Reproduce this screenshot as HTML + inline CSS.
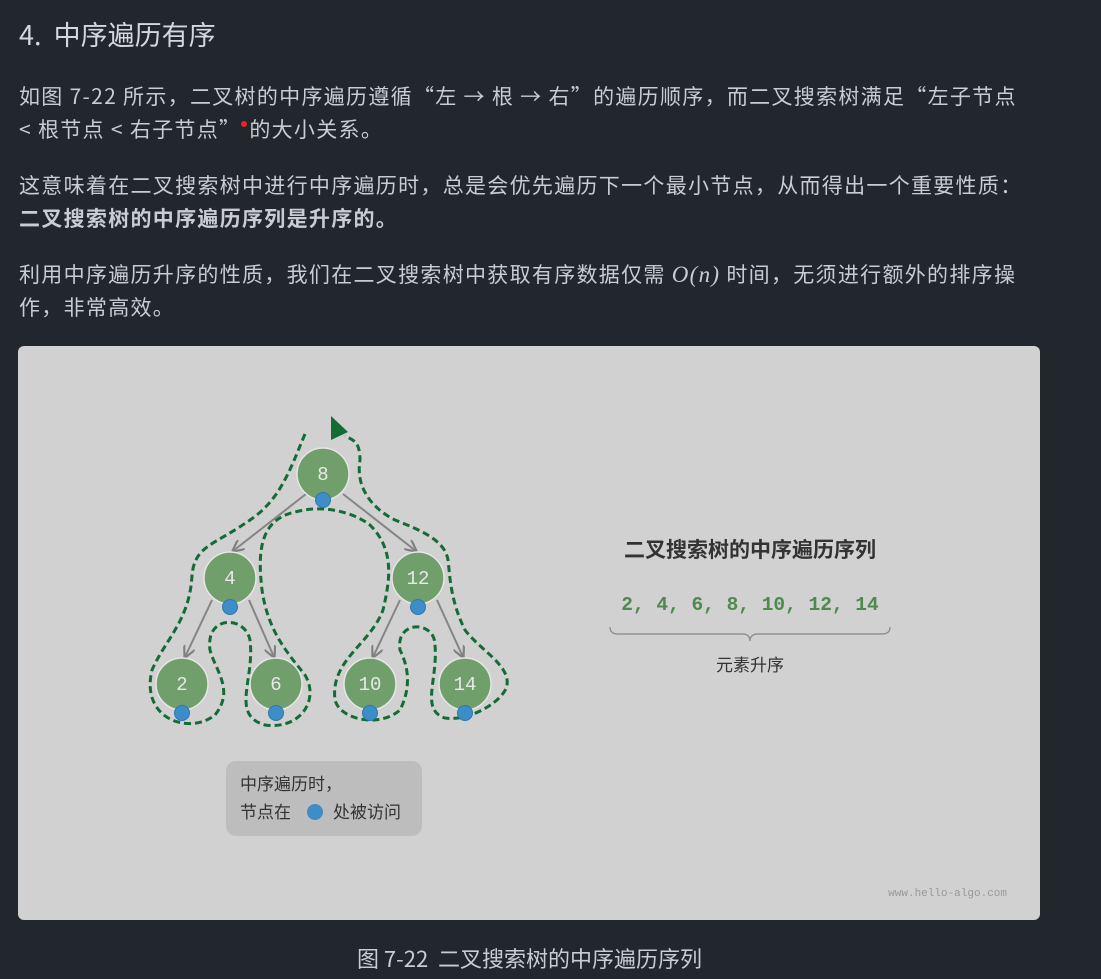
<!DOCTYPE html>
<html><head><meta charset="utf-8"><style>
body{margin:0;width:1101px;height:979px;background:#22262d;font-family:"Noto Sans CJK SC","Liberation Sans",sans-serif;color:#c9cdd2;position:relative;overflow:hidden}
.t{position:absolute;left:19px;white-space:nowrap}
p.t{margin:0;font-size:21px;line-height:33px;letter-spacing:1.3px}
.dot{display:inline-block;width:6px;height:6px;border-radius:50%;background:#e22;vertical-align:top;margin-top:8px;margin-right:2px}
</style></head><body>
<div class="t" style="top:14px;font-size:27px;color:#d4d7db">4.&nbsp; 中序遍历有序</div>
<p class="t" style="top:80px">如图 7-22 所示，二叉树的中序遍历遵循“左 → 根 → 右”的遍历顺序，而二叉搜索树满足“左子节点<br>&lt; 根节点 &lt; 右子节点”<span class="dot"></span>的大小关系。</p>
<p class="t" style="top:169px">这意味着在二叉搜索树中进行中序遍历时，总是会优先遍历下一个最小节点，从而得出一个重要性质：<br><b>二叉搜索树的中序遍历序列是升序的。</b></p>
<p class="t" style="top:258px">利用中序遍历升序的性质，我们在二叉搜索树中获取有序数据仅需 <i style="font-family:'Liberation Serif',serif;font-size:23px">O(n)</i> 时间，无须进行额外的排序操<br>作，非常高效。</p>
<div style="position:absolute;left:18px;top:346px;width:1022px;height:574px;background:#d1d1d1;border-radius:6px"></div>
<svg style="position:absolute;left:0;top:0" width="1101" height="979" font-family="Liberation Sans,Noto Sans CJK SC,sans-serif">
<defs>
<marker id="b" viewBox="0 0 10 10" refX="9" refY="5" markerWidth="12" markerHeight="12" markerUnits="userSpaceOnUse" orient="auto"><path d="M0,0 L10,5 L0,10" fill="none" stroke="#808080" stroke-width="1.8"/></marker></defs>
<g stroke="#858585" stroke-width="2" marker-end="url(#b)">
<line x1="306" y1="494" x2="233" y2="551"/><line x1="343" y1="494" x2="416" y2="551"/>
<line x1="212" y1="600" x2="185" y2="657"/><line x1="249" y1="600" x2="274" y2="657"/>
<line x1="400" y1="600" x2="373" y2="657"/><line x1="437" y1="600" x2="463" y2="657"/>
</g>
<path d="M305,434 C290,470 280,500 250,520 C215,545 195,545 192,575 C190,620 165,640 152,670 C140,720 190,735 215,715 C235,690 215,670 210,650 C205,615 245,615 250,640 C255,680 230,715 265,725 C300,730 320,700 305,675 C285,650 268,630 262,590 C258,555 258,520 295,512 C320,505 350,510 370,525 C395,550 390,580 383,610 C370,645 330,660 335,700 C340,720 380,728 400,710 C410,690 410,670 400,650 C395,620 435,620 435,645 C438,680 420,710 445,718 C470,722 505,700 507,685 C510,665 480,650 465,630 C450,600 450,575 448,560 C445,540 420,530 395,520 C375,510 355,490 360,460 C360,440 352,440 345,436" fill="none" stroke="#136b35" stroke-width="3" stroke-dasharray="7,4"/>
<polygon points="331,416 331,440 348,432" fill="#136b35"/>
<g font-family="Liberation Mono,monospace" font-size="19" fill="#e8e8e8" text-anchor="middle">
<g fill="#719f6c" stroke="#e6e6e6" stroke-width="1.5">
<circle cx="323" cy="474" r="26"/><circle cx="230" cy="578" r="26"/><circle cx="418" cy="578" r="26"/>
<circle cx="182" cy="684" r="26"/><circle cx="276" cy="684" r="26"/><circle cx="370" cy="684" r="26"/><circle cx="465" cy="684" r="26"/></g>
<g fill="#719f6c"><circle cx="323" cy="474" r="23"/><circle cx="230" cy="578" r="23"/><circle cx="418" cy="578" r="23"/><circle cx="182" cy="684" r="23"/><circle cx="276" cy="684" r="23"/><circle cx="370" cy="684" r="23"/><circle cx="465" cy="684" r="23"/></g>
<text x="323" y="480">8</text><text x="230" y="584">4</text><text x="418" y="584">12</text><text x="182" y="690">2</text><text x="276" y="690">6</text><text x="370" y="690">10</text><text x="465" y="690">14</text>
</g>
<g fill="#3d8dc9" stroke="#2f76ad"><circle cx="323" cy="500" r="7.5"/><circle cx="230" cy="607" r="7.5"/><circle cx="418" cy="607" r="7.5"/><circle cx="182" cy="713" r="7.5"/><circle cx="276" cy="713" r="7.5"/><circle cx="370" cy="713" r="7.5"/><circle cx="465" cy="713" r="7.5"/></g>
<rect x="226" y="761" width="196" height="75" rx="10" fill="#bdbdbd"/>
<text x="240" y="790" font-size="17" fill="#333">中序遍历时，</text>
<text x="240" y="818" font-size="17" fill="#333">节点在</text>
<circle cx="315" cy="812" r="8" fill="#3d8dc9"/>
<text x="333" y="818" font-size="17" fill="#333">处被访问</text>
<text x="750" y="557" font-size="21" font-weight="bold" fill="#333" text-anchor="middle">二叉搜索树的中序遍历序列</text>
<text x="750" y="610" font-size="19.5" font-weight="bold" fill="#4e8a4d" font-family="Liberation Mono,monospace" text-anchor="middle">2, 4, 6, 8, 10, 12, 14</text>
<path d="M610,627 Q610,634 618,634 L742,634 Q750,634 750,641 Q750,634 758,634 L882,634 Q890,634 890,627" fill="none" stroke="#888" stroke-width="1.2"/>
<text x="750" y="671" font-size="17" fill="#333" text-anchor="middle">元素升序</text>
<text x="1007" y="896" font-size="11" fill="#999" font-family="Liberation Mono,monospace" text-anchor="end">www.hello-algo.com</text>
</svg>
<div class="t" style="left:0;width:1059px;text-align:center;top:942px;font-size:22px">图 7-22 &nbsp;二叉搜索树的中序遍历序列</div>
</body></html>
